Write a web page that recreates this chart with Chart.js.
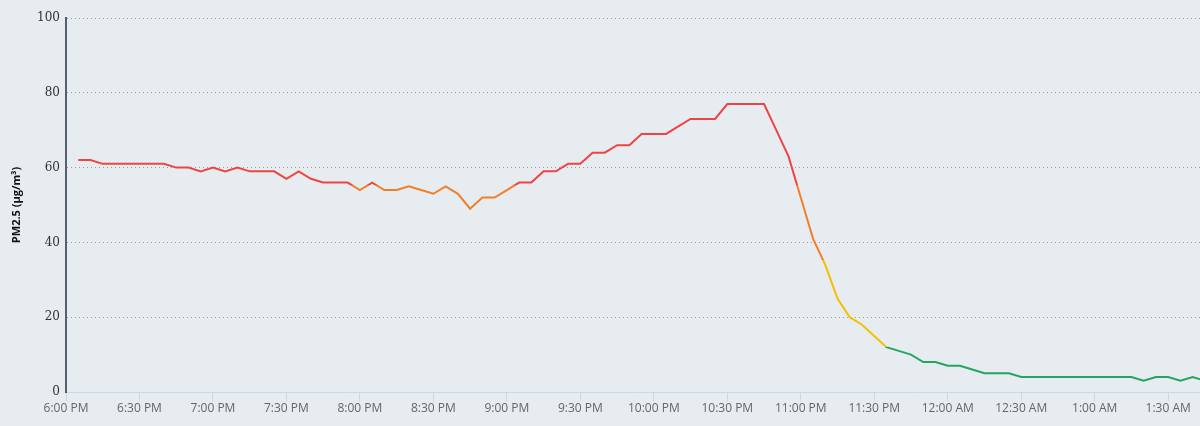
<!DOCTYPE html>
<html>
<head>
<meta charset="utf-8">
<script src="https://cdn.jsdelivr.net/npm/chart.js@4.4.1/dist/chart.umd.min.js"></script>
<style>
  html, body { margin: 0; padding: 0; background: #e6ecf0; }
  canvas { display: block; }
</style>
</head>
<body>
<canvas id="pmChart" width="1200" height="426"></canvas>
<script>
// ---- Data ----
// readings every 5 minutes, first one at 6:05 PM (minutes after 6:00 PM)
const firstMinute = 5;
const stepMinutes = 5;
const pm25 = [
  62, 62, 61, 61, 61, 61, 61, 61, 60, 60, 59, 60,   // 6:05 - 7:00
  59, 60, 59, 59, 59, 57, 59, 57, 56, 56, 56, 54,   // 7:05 - 8:00
  56, 54, 54, 55, 54, 53, 55, 53, 49, 52, 52, 54,   // 8:05 - 9:00
  56, 56, 59, 59, 61, 61, 64, 64, 66, 66, 69, 69,   // 9:05 - 10:00
  69, 71, 73, 73, 73, 77, 77, 77, 77, 70, 63, 52,   // 10:05 - 11:00
  41, 34, 25, 20, 18, 15, 12, 11, 10, 8, 8, 7,      // 11:05 - 12:00
  7, 6, 5, 5, 5, 4, 4, 4, 4, 4, 4, 4,               // 12:05 - 1:00
  4, 4, 4, 3, 4, 4, 3, 4, 3                         // 1:05 - 1:45
];

const tickLabels = [
  "6:00 PM", "6:30 PM", "7:00 PM", "7:30 PM", "8:00 PM", "8:30 PM",
  "9:00 PM", "9:30 PM", "10:00 PM", "10:30 PM", "11:00 PM", "11:30 PM",
  "12:00 AM", "12:30 AM", "1:00 AM", "1:30 AM"
];
const tickStepMinutes = 30;
const yTicks = [0, 20, 40, 60, 80, 100];

// colour zones (upper limit of each zone), like the AQI bands
const zoneLimits = [12, 35.4, 55.4];
const zoneColors = ["#23a565", "#f5c000", "#f07f2a", "#ef4444"];

const points = pm25.map((v, i) => ({ x: firstMinute + i * stepMinutes, y: v }));

// ---- Zone gradient ----
function zoneGradient(chart) {
  const { ctx, chartArea, scales } = chart;
  if (!chartArea) return zoneColors[zoneColors.length - 1];
  const y0 = scales.y.getPixelForValue(0);
  const y1 = scales.y.getPixelForValue(100);
  const g = ctx.createLinearGradient(0, y0, 0, y1);
  let prev = 0;
  zoneLimits.forEach((lim, i) => {
    g.addColorStop(prev / 100, zoneColors[i]);
    g.addColorStop(lim / 100, zoneColors[i]);
    prev = lim;
  });
  g.addColorStop(prev / 100, zoneColors[zoneColors.length - 1]);
  g.addColorStop(1, zoneColors[zoneColors.length - 1]);
  return g;
}

const ctx = document.getElementById("pmChart").getContext("2d");
new Chart(ctx, {
  type: "line",
  data: {
    datasets: [{
      label: "PM2.5",
      data: points,
      borderColor: (c) => zoneGradient(c.chart),
      borderWidth: 2,
      pointRadius: 0,
      tension: 0,
      fill: false
    }]
  },
  options: {
    responsive: false,
    animation: false,
    devicePixelRatio: 1,
    layout: { padding: { top: 18, right: 0, bottom: 0, left: 0 } },
    plugins: {
      legend: { display: false },
      tooltip: { enabled: false }
    },
    scales: {
      x: {
        type: "linear",
        min: 0,
        max: 463,
        afterBuildTicks: (scale) => {
          scale.ticks = tickLabels.map((_, i) => ({ value: i * tickStepMinutes }));
        },
        afterFit: (scale) => { scale.height = 34; },
        ticks: {
          autoSkip: false,
          maxRotation: 0,
          padding: 0,
          color: "#666666",
          font: { family: "Open Sans", size: 12 },
          callback: (value, index) => tickLabels[index]
        },
        grid: {
          drawOnChartArea: false,
          drawTicks: true,
          tickLength: 9,
          color: "#ccd6eb"
        },
        border: { color: "#ccd6eb", width: 1 }
      },
      y: {
        min: 0,
        max: 100,
        afterBuildTicks: (scale) => {
          scale.ticks = yTicks.map(v => ({ value: v }));
        },
        afterFit: (scale) => { scale.width = 66; },
        ticks: {
          padding: 6,
          color: "#333333",
          font: { family: "DejaVu Serif", size: 12 }
        },
        grid: {
          drawTicks: false,
          color: (c) => (c.tick && c.tick.value === 0 ? "rgba(0,0,0,0)" : "#9a9a9a"),
          lineWidth: 1
        },
        border: { color: "#55606b", width: 2, dash: [1, 3] },
        title: {
          display: true,
          text: "PM2.5 (μg/m³)",
          color: "#111111",
          font: { family: "Open Sans", size: 11, weight: "bold" },
          padding: { top: 10, bottom: 0 }
        }
      }
    }
  }
});
</script>
</body>
</html>
